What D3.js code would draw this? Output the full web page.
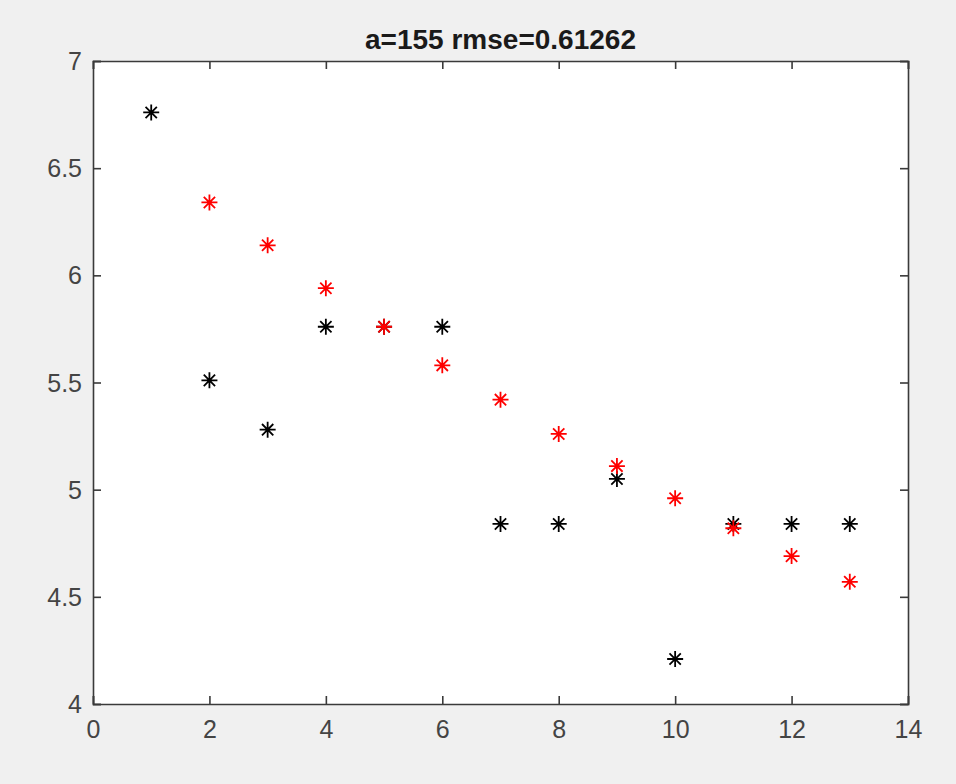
<!DOCTYPE html>
<html>
<head>
<meta charset="utf-8">
<script src="https://cdn.jsdelivr.net/npm/d3@7"></script>
<style>
  html, body { margin: 0; padding: 0; background: #f0f0f0; }
  svg { display: block; }
</style>
</head>
<body>
<svg id="chart" width="956" height="784"></svg>
<script>
// ---- data ----
const titleText = "a=155 rmse=0.61262";
const actualX = [1, 2, 3, 4, 5, 6, 7, 8, 9, 10, 11, 12, 13];
const actualY = [6.76, 5.51, 5.28, 5.76, 5.76, 5.76, 4.84, 4.84, 5.05, 4.21, 4.84, 4.84, 4.84];
const predX = [2, 3, 4, 5, 6, 7, 8, 9, 10, 11, 12, 13];
const predY = [6.34, 6.14, 5.94, 5.76, 5.58, 5.42, 5.26, 5.11, 4.96, 4.82, 4.69, 4.57];
const xTicks = [0, 2, 4, 6, 8, 10, 12, 14];
const yTicks = [4, 4.5, 5, 5.5, 6, 6.5, 7];
const xDomain = [0, 14];
const yDomain = [4, 7];

// ---- layout ----
const svg = d3.select("#chart");
const mLeft = 93, mRight = 908, mTop = 61, mBottom = 704;
const axisColor = "#3a3a3a";
const textColor = "#444444";
const fontFam = "'Liberation Sans', Arial, Helvetica, sans-serif";

const x = d3.scaleLinear().domain(xDomain).range([mLeft, mRight]);
const y = d3.scaleLinear().domain(yDomain).range([mBottom, mTop]);

svg.append("rect").attr("x", mLeft).attr("y", mTop)
  .attr("width", mRight - mLeft).attr("height", mBottom - mTop)
  .attr("fill", "#ffffff");

const tickLen = 8;
const gB = svg.append("g").attr("transform", `translate(0,${mBottom})`)
  .call(d3.axisBottom(x).tickValues(xTicks).tickSize(-tickLen).tickPadding(16).tickFormat(d3.format("d")));
const gT = svg.append("g").attr("transform", `translate(0,${mTop})`)
  .call(d3.axisTop(x).tickValues(xTicks).tickSize(-tickLen).tickFormat(""));
const gL = svg.append("g").attr("transform", `translate(${mLeft},0)`)
  .call(d3.axisLeft(y).tickValues(yTicks).tickSize(-tickLen).tickPadding(11).tickFormat(d => (d % 1 === 0 ? d3.format("d")(d) : d3.format(".1f")(d))));
const gR = svg.append("g").attr("transform", `translate(${mRight},0)`)
  .call(d3.axisRight(y).tickValues(yTicks).tickSize(-tickLen).tickFormat(""));

[gB, gT, gL, gR].forEach(g => {
  g.select(".domain").attr("stroke", axisColor).attr("stroke-width", 1.6);
  g.selectAll(".tick line").attr("stroke", axisColor).attr("stroke-width", 1.6);
  g.selectAll(".tick text").attr("fill", textColor)
    .style("font-family", fontFam).style("font-size", "25px");
});
gB.selectAll(".tick text").attr("dy", "0.71em");
gL.selectAll(".tick text").attr("dy", "0.34em");

svg.append("text")
  .attr("x", (mLeft + mRight) / 2).attr("y", 49)
  .attr("text-anchor", "middle")
  .style("font-family", fontFam).style("font-size", "28px").style("font-weight", "bold")
  .attr("fill", "#1a1a1a")
  .text(titleText);

function asterisk(r) {
  const d = r * Math.SQRT1_2;
  return `M${-r},0L${r},0M0,${-r}L0,${r}M${-d},${-d}L${d},${d}M${-d},${d}L${d},${-d}`;
}

const actual = actualX.map((v, i) => ({ x: v, y: actualY[i] }));
const pred = predX.map((v, i) => ({ x: v, y: predY[i] }));

svg.append("g").selectAll("path").data(actual).join("path")
  .attr("transform", d => `translate(${x(d.x)},${y(d.y)})`)
  .attr("d", asterisk(8))
  .attr("stroke", "#000000").attr("stroke-width", 1.8).attr("fill", "none");

svg.append("g").selectAll("path").data(pred).join("path")
  .attr("transform", d => `translate(${x(d.x)},${y(d.y)})`)
  .attr("d", asterisk(8))
  .attr("stroke", "#ff0000").attr("stroke-width", 1.8).attr("fill", "none");
</script>
</body>
</html>
